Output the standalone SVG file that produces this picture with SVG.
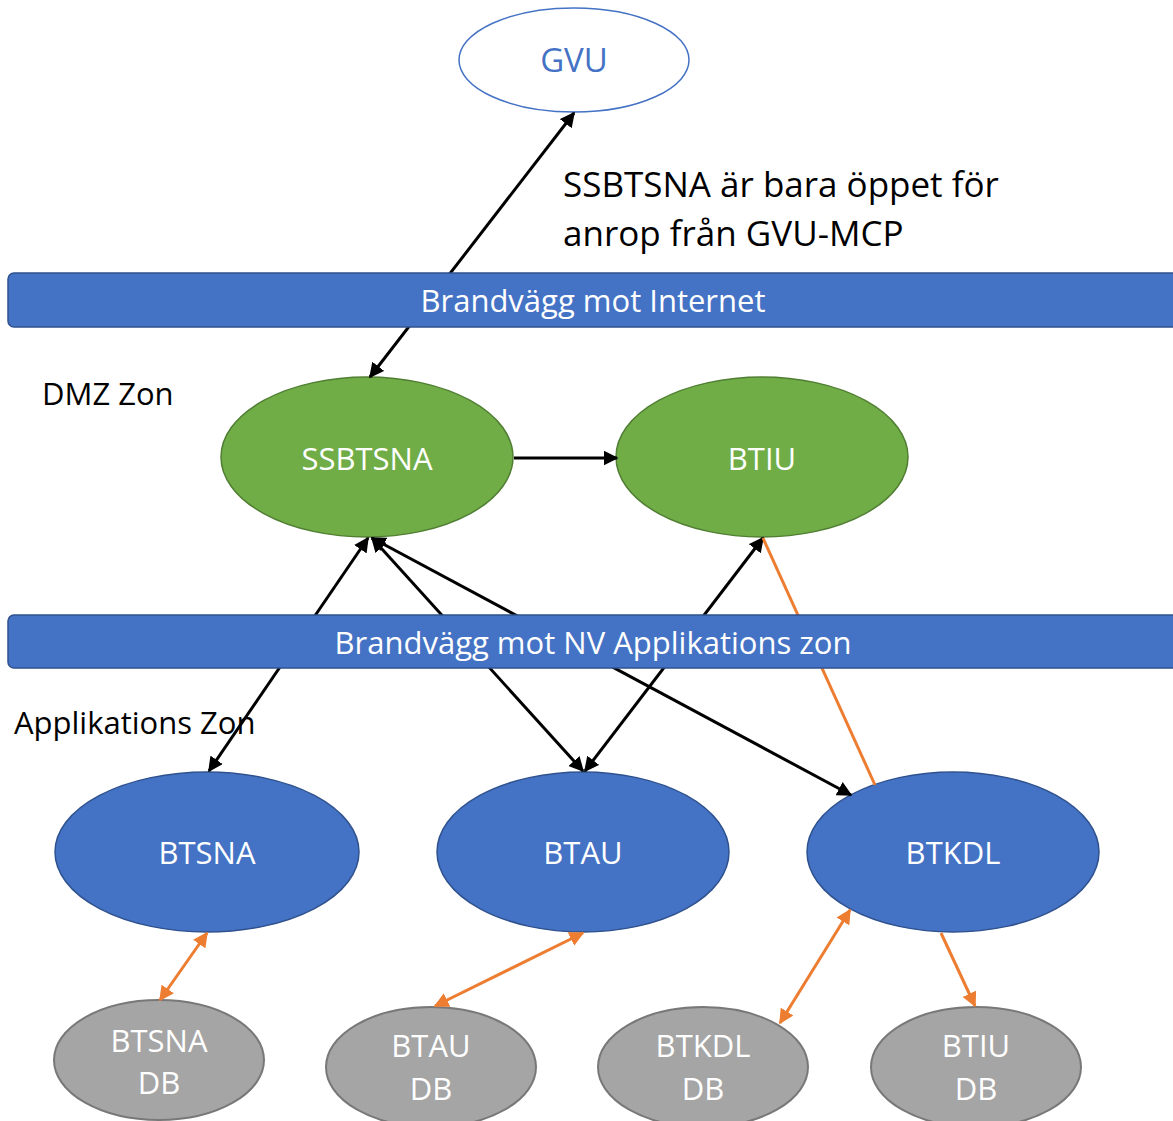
<svg xmlns="http://www.w3.org/2000/svg" width="1173" height="1121" viewBox="0 0 1173 1121">
<style>
text{font-family:"Open Sans","Noto Sans","Liberation Sans",sans-serif;}
.w{fill:#fff;font-size:31px;text-anchor:middle;}
.lbl{fill:#000;font-size:31px;}
.note{fill:#000;font-size:35px;}
.bar{fill:#4472C4;stroke:#2F528F;stroke-width:1.5;}
.green{fill:#70AD47;stroke:#507E32;stroke-width:1.5;}
.blue{fill:#4472C4;stroke:#2F528F;stroke-width:1.5;}
.gray{fill:#A5A5A5;stroke:#787878;stroke-width:2;}
.k{stroke:#000;stroke-width:3;fill:none;}
.o{stroke:#ED7D31;stroke-width:3;fill:none;}
</style>
<defs>
<marker id="ak" viewBox="0 0 10 10" refX="9" refY="5" markerWidth="5" markerHeight="5" orient="auto-start-reverse"><path d="M0,0 L10,5 L0,10 z" fill="#000"/></marker>
<marker id="ao" viewBox="0 0 10 10" refX="9" refY="5" markerWidth="5" markerHeight="5" orient="auto-start-reverse"><path d="M0,0 L10,5 L0,10 z" fill="#ED7D31"/></marker>
</defs>
<rect width="1173" height="1121" fill="#fff"/>

<g id="gvu"><ellipse cx="574" cy="60" rx="115" ry="52" fill="#fff" stroke="#4472C4" stroke-width="1.5"/><text x="574" y="72" style="fill:#4472C4;font-size:33px;text-anchor:middle">GVU</text></g>
<g id="note"><text class="note" x="563" y="197">SSBTSNA är bara öppet för</text><text class="note" x="563" y="246">anrop från GVU-MCP</text></g>
<g id="dmz-label"><text class="lbl" x="42" y="405">DMZ Zon</text></g>
<g id="app-label"><text class="lbl" x="14" y="734">Applikations Zon</text></g>

<g id="ssbtsna"><ellipse class="green" cx="367" cy="457" rx="146" ry="80"/><text class="w" x="367" y="470">SSBTSNA</text></g>
<g id="btiu"><ellipse class="green" cx="762" cy="457" rx="146" ry="80"/><text class="w" x="762" y="470">BTIU</text></g>
<g id="btsna"><ellipse class="blue" cx="207" cy="852" rx="152" ry="80"/><text class="w" x="207" y="864">BTSNA</text></g>
<g id="btau"><ellipse class="blue" cx="583" cy="852" rx="146" ry="80"/><text class="w" x="583" y="864">BTAU</text></g>
<g id="btkdl"><ellipse class="blue" cx="953" cy="852" rx="146" ry="80"/><text class="w" x="953" y="864">BTKDL</text></g>
<g id="btsna-db"><ellipse class="gray" cx="159" cy="1060" rx="105" ry="60"/><text class="w" x="159" y="1052">BTSNA</text><text class="w" x="159" y="1094">DB</text></g>
<g id="btau-db"><ellipse class="gray" cx="431" cy="1067" rx="105" ry="60"/><text class="w" x="431" y="1057">BTAU</text><text class="w" x="431" y="1100">DB</text></g>
<g id="btkdl-db"><ellipse class="gray" cx="703" cy="1067" rx="105" ry="60"/><text class="w" x="703" y="1057">BTKDL</text><text class="w" x="703" y="1100">DB</text></g>
<g id="btiu-db"><ellipse class="gray" cx="976" cy="1067" rx="105" ry="60"/><text class="w" x="976" y="1057">BTIU</text><text class="w" x="976" y="1100">DB</text></g>

<g id="connectors">
<line class="k" x1="574" y1="113" x2="370" y2="377" marker-start="url(#ak)" marker-end="url(#ak)"/>
<line class="k" x1="514" y1="458" x2="617" y2="458" marker-end="url(#ak)"/>
<line class="k" x1="209" y1="771" x2="368" y2="538" marker-start="url(#ak)" marker-end="url(#ak)"/>
<line class="k" x1="372" y1="538" x2="583" y2="771" marker-start="url(#ak)" marker-end="url(#ak)"/>
<line class="k" x1="372" y1="538" x2="851" y2="795" marker-start="url(#ak)" marker-end="url(#ak)"/>
<line class="k" x1="763" y1="538" x2="585" y2="771" marker-start="url(#ak)" marker-end="url(#ak)"/>
<line class="o" x1="763" y1="538" x2="875" y2="785"/>
<line class="o" x1="207" y1="933" x2="160" y2="1000" marker-start="url(#ao)" marker-end="url(#ao)"/>
<line class="o" x1="583" y1="933" x2="435" y2="1006" marker-start="url(#ao)" marker-end="url(#ao)"/>
<line class="o" x1="850" y1="910" x2="780" y2="1023" marker-start="url(#ao)" marker-end="url(#ao)"/>
<line class="o" x1="941" y1="933" x2="975" y2="1006" marker-end="url(#ao)"/>
</g>

<g id="fw-internet"><rect class="bar" x="8" y="273" width="1180" height="54" rx="6"/><text class="w" x="593" y="312">Brandvägg mot Internet</text></g>
<g id="fw-nv"><rect class="bar" x="8" y="615" width="1180" height="53" rx="6"/><text class="w" x="593" y="654">Brandvägg mot NV Applikations zon</text></g>
</svg>
